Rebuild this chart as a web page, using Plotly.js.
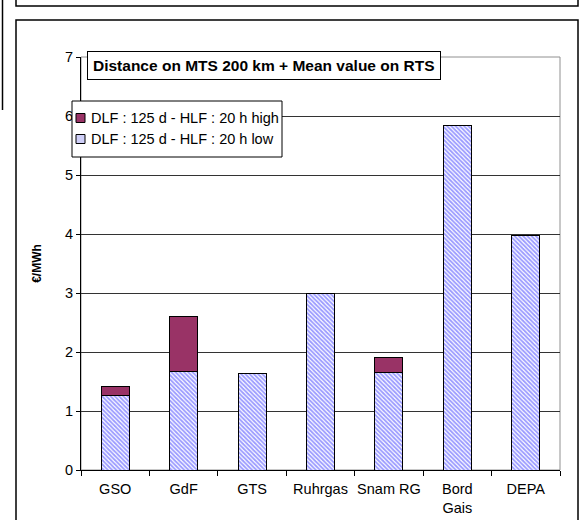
<!DOCTYPE html>
<html>
<head>
<meta charset="utf-8">
<script src="https://cdn.plot.ly/plotly-3.0.1.min.js"></script>
<style>html,body{margin:0;padding:0;background:#fff;}#chart{width:580px;height:520px;}</style>
</head>
<body>
<div id="chart"></div>
<script>
const categories = ["GSO", "GdF", "GTS", "Ruhrgas", "Snam RG", "Bord<br>Gais", "DEPA"];
const lowValues = [1.27, 1.67, 1.63, 3.00, 1.65, 5.84, 3.98];
const highValues = [0.14, 0.94, 0, 0, 0.25, 0, 0];
const lowName = "DLF : 125 d - HLF : 20 h low";
const highName = "DLF : 125 d - HLF : 20 h high";
const chartTitle = "Distance on MTS 200 km + Mean value on RTS";
const yTitle = "€/MWh";
const yTicks = [0, 1, 2, 3, 4, 5, 6, 7];

const lowColor = "#9a9aff";
const highColor = "#993366";

// pixel -> paper helpers (plot area 81..560 x, 57..470 y)
const L = 81, R = 560, T = 57, B = 470;
const px = v => (v - L) / (R - L);
const py = v => (B - v) / (B - T);

const traces = [
  {
    type: "bar", name: lowName, x: categories, y: lowValues,
    width: 0.41, showlegend: false,
    marker: {
      color: "#ffffff",
      line: {color: "#000000", width: 1},
      pattern: {shape: "\\", fgcolor: lowColor, bgcolor: "#ffffff", size: 3, solidity: 0.6}
    },
    hoverinfo: "y"
  },
  {
    type: "bar", name: highName, x: categories, y: highValues,
    width: 0.41, showlegend: false,
    marker: {color: highColor, line: {color: "#000000", width: 1}},
    hoverinfo: "y"
  }
];

// custom legend matching the reference box
const legendItems = [
  {name: highName, fill: highColor, yc: 118},
  {name: lowName, fill: "#cfcff8", yc: 139}
];
const legendShapes = [
  {type: "rect", xref: "paper", yref: "paper", x0: px(72), x1: px(282), y0: py(157), y1: py(101),
   line: {color: "#000", width: 1}, fillcolor: "#ffffff", layer: "above"}
];
const legendAnn = [];
legendItems.forEach(it => {
  legendShapes.push({type: "rect", xref: "paper", yref: "paper",
    x0: px(76), x1: px(85), y0: py(it.yc + 4.5), y1: py(it.yc - 4.5),
    line: {color: "#000", width: 1}, fillcolor: it.fill, layer: "above"});
  legendAnn.push({xref: "paper", yref: "paper", x: px(89), y: py(it.yc), xanchor: "left", yanchor: "middle",
    text: it.name, showarrow: false, font: {size: 14.5}});
});

const layout = {
  width: 580, height: 520,
  margin: {l: L, r: 580 - R, t: T, b: 520 - B},
  paper_bgcolor: "#ffffff", plot_bgcolor: "#ffffff",
  barmode: "stack",
  font: {family: "Liberation Sans, Arial, sans-serif", size: 14.5, color: "#000"},
  showlegend: false,
  xaxis: {
    type: "category", showgrid: false, showline: true, linecolor: "#000", linewidth: 1,
    ticks: "outside", ticklen: 5, tickcolor: "#000", tickson: "boundaries",
    ticklabelstandoff: 6, tickangle: 0, automargin: false,
    tickfont: {size: 14.5}, zeroline: false, fixedrange: true
  },
  yaxis: {
    range: [0, 7], tickvals: yTicks, ticktext: yTicks.map(String),
    showgrid: true, gridcolor: "#333333", gridwidth: 1,
    showline: true, linecolor: "#000", linewidth: 1,
    ticks: "outside", ticklen: 4, tickcolor: "#000", tickfont: {size: 14.5},
    zeroline: false, fixedrange: true, automargin: false,
    title: {text: yTitle, font: {size: 12, weight: "bold"}, standoff: 20}
  },
  shapes: [
    // plot area gray border (top/right)
    {type: "rect", xref: "paper", yref: "paper", x0: 0, x1: 1, y0: 0, y1: 1,
     line: {color: "#909090", width: 1}, layer: "below"},
    // outer chart frame
    {type: "rect", xref: "paper", yref: "paper", x0: px(16), x1: px(578), y0: py(540), y1: py(20),
     line: {color: "#000", width: 1.5}, layer: "below"},
    // previous chart frame bottom
    {type: "rect", xref: "paper", yref: "paper", x0: px(16), x1: px(578), y0: py(6), y1: py(-20),
     line: {color: "#000", width: 1.5}, layer: "below"},
    // left page line
    {type: "line", xref: "paper", yref: "paper", x0: px(2.5), x1: px(2.5), y0: py(0), y1: py(110),
     line: {color: "#000", width: 1.5}}
  ].concat(legendShapes),
  annotations: [
    {xref: "paper", yref: "paper", x: px(263.5), y: py(65.5), xanchor: "center", yanchor: "middle",
     text: "<b>" + chartTitle + "</b>", showarrow: false, font: {size: 15.5},
     bgcolor: "#ffffff", bordercolor: "#000", borderwidth: 1, borderpad: 5}
  ].concat(legendAnn)
};

Plotly.newPlot("chart", traces, layout, {displayModeBar: false, staticPlot: true});
</script>
</body>
</html>
